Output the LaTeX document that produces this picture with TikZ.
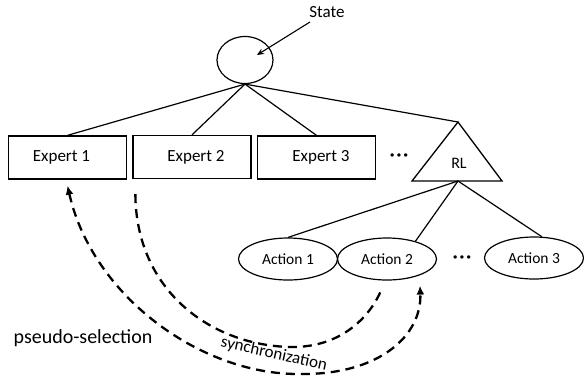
\documentclass[tikz,border=0pt]{standalone}
\usepackage{fontspec}
\setmainfont{Carlito}
\usetikzlibrary{shapes.geometric,arrows.meta}
\begin{document}
\begin{tikzpicture}[x=1pt,y=-1pt,
  solidline/.style={line width=1.2pt},
  expertbox/.style={draw,line width=1.3pt,minimum width=118pt,minimum height=43pt,inner sep=0pt,font=\fontsize{17}{20}\selectfont},
  actionell/.style={draw,ellipse,line width=1.2pt,minimum width=99pt,minimum height=42pt,inner sep=0pt,font=\fontsize{15.5}{18}\selectfont},
  dashline/.style={line width=2.3pt,dash pattern=on 9pt off 6pt},
  dotsnode/.style={inner sep=0pt,font=\bfseries\fontsize{18}{20}\selectfont}]
\useasboundingbox (0,0) rectangle (584,381);

% state
\node[draw,ellipse,line width=1.2pt,minimum width=56pt,minimum height=47pt,inner sep=0pt] (st) at (245,60) {};
\node[inner sep=0pt,font=\fontsize{17}{20}\selectfont] (lbl) at (327,12) {State};
\coordinate (stip) at (257,55);
\draw[line width=1.1pt,-{Stealth[length=7pt,width=6pt]}] ([shift={(-17pt,-10pt)}]lbl.center) -- (stip);

% experts
\node[expertbox] (e1) at (67.5,157.5) {\hspace*{-12pt}Expert 1};
\node[expertbox] (e2) at (192,157) {\hspace*{8pt}Expert 2};
\node[expertbox] (e3) at (316.5,157.5) {\hspace*{9pt}Expert 3};
\node[dotsnode] (d1) at (399,157) {·\kern2pt·\kern2pt·};

% RL triangle
\coordinate (rltop) at (458,122);
\coordinate (rlbl) at (412,181);
\coordinate (rlbr) at (502,181);
\coordinate (rlb) at (458,181);
\draw[line width=1.3pt,line join=miter] (rltop) -- (rlbl) -- (rlbr) -- cycle;
\node[inner sep=0pt,font=\fontsize{16}{19}\selectfont] (rl) at (459,163) {RL};

\draw[solidline] (st.south) -- (e1.north);
\draw[solidline] (st.south) -- (e2.north);
\draw[solidline] (st.south) -- (e3.north);
\draw[solidline] (st.south) -- (rltop);

% actions
\node[actionell] (a1) at (288,259) {Action 1};
\node[actionell] (a2) at (387,259) {Action 2};
\node[actionell] (a3) at (534,258) {Action 3};
\node[dotsnode] (d2) at (462,259) {·\kern2pt·\kern2pt·};

\draw[solidline] (rlb) -- (a1.north);
\draw[solidline] (rlb) -- (a2.32);
\draw[solidline] (rlb) -- (a3.70);

% dashed curves
\draw[dashline] ([shift={(3pt,-15pt)}]e2.south west)
  .. controls (136,290) and (210,345) .. (290,347)
  .. controls (345,348) and (372,312) .. ([shift={(-6pt,-10pt)}]a2.south);
\draw[dashline,{Latex[length=9pt,width=8pt]}-{Latex[length=9pt,width=8pt]}] ([yshift=-6pt]e1.south)
  .. controls (92,295) and (200,375) .. (300,374)
  .. controls (380,375) and (422,335) .. ([shift={(33pt,-5pt)}]a2.south);

\node[inner sep=0pt,rotate=-12.5,font=\fontsize{17}{20}\selectfont] (sync) at (274,354) {synchronization};
\node[inner sep=0pt,font=\fontsize{20}{24}\selectfont] (ps) at (83,338) {pseudo-selection};
\end{tikzpicture}
\end{document}
